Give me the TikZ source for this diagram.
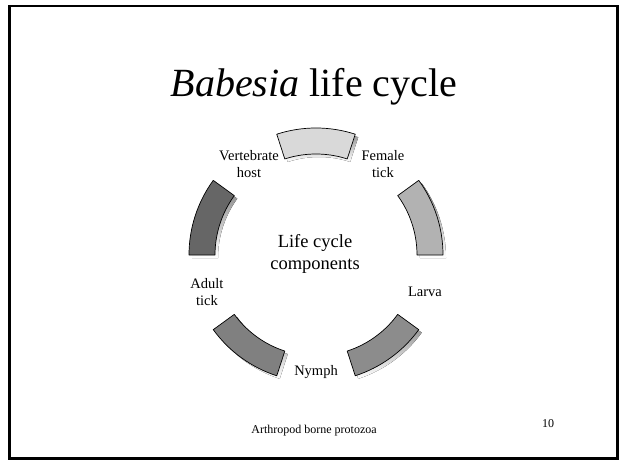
\documentclass[tikz,border=0pt]{standalone}
\usepackage{fontspec}
\setmainfont{Liberation Serif}
\usepackage{tikz}
\usetikzlibrary{positioning, calc}
\definecolor{segtop}{RGB}{217, 217, 217}
\definecolor{segright}{RGB}{178, 178, 178}
\definecolor{seglowr}{RGB}{140, 140, 140}
\definecolor{seglowl}{RGB}{128, 128, 128}
\definecolor{segleft}{RGB}{102, 102, 102}
\definecolor{shade}{RGB}{205, 205, 205}

\newcommand{\ringpart}[3]{%
  \fill[shade] ($(c)+(3pt,-3pt)+(#1:127pt)$) arc[start angle=#1, end angle=#2, radius=127pt]
    -- ($(c)+(3pt,-3pt)+(#2:101pt)$) arc[start angle=#2, end angle=#1, radius=101pt] -- cycle;
  \draw[seg, fill=#3] ($(c)+(#1:127pt)$) arc[start angle=#1, end angle=#2, radius=127pt]
    -- ($(c)+(#2:101pt)$) arc[start angle=#2, end angle=#1, radius=101pt] -- cycle;
}

\begin{document}
\begin{tikzpicture}[x=1pt, y=1pt,
      seg/.style={draw=black, line width=0.7pt, line join=round},
      lbl/.style={font=\fontsize{14.5}{16.5}\selectfont, align=center, inner sep=0pt},
      foot/.style={font=\fontsize{12}{14}\selectfont, inner sep=0pt}
  ]
    \useasboundingbox (0,0) rectangle (620,461);
    \draw[line width=2.4pt] (9.5,455) rectangle (617.5,2.5);

    \node[anchor=base, inner sep=0pt] (title) at (314,364) {\fontsize{40}{46}\selectfont\textit{Babesia} life cycle};

    \coordinate (c) at (316,206);
    \ringpart{72}{108}{segtop}
    \ringpart{0}{36}{segright}
    \ringpart{288}{324}{seglowr}
    \ringpart{216}{252}{seglowl}
    \ringpart{144}{180}{segleft}

    \node[font=\fontsize{18.5}{22}\selectfont, align=center, inner sep=0pt] (centre) at (315,207) {Life cycle\\components};

    \node[lbl] (vert)   at (249,297) {Vertebrate\\host};
    \node[lbl] (female) at (383,297) {Female\\tick};
    \node[lbl] (larva)  at (425,169) {Larva};
    \node[lbl] (nymph)  at (316,89)  {Nymph};
    \node[lbl] (adult)  at (207,169) {Adult\\tick};

    \node[foot] (topic) at (314,30) {Arthropod borne protozoa};
    \node[foot] (page)  at (548,37) {10};
  \end{tikzpicture}
\end{document}
